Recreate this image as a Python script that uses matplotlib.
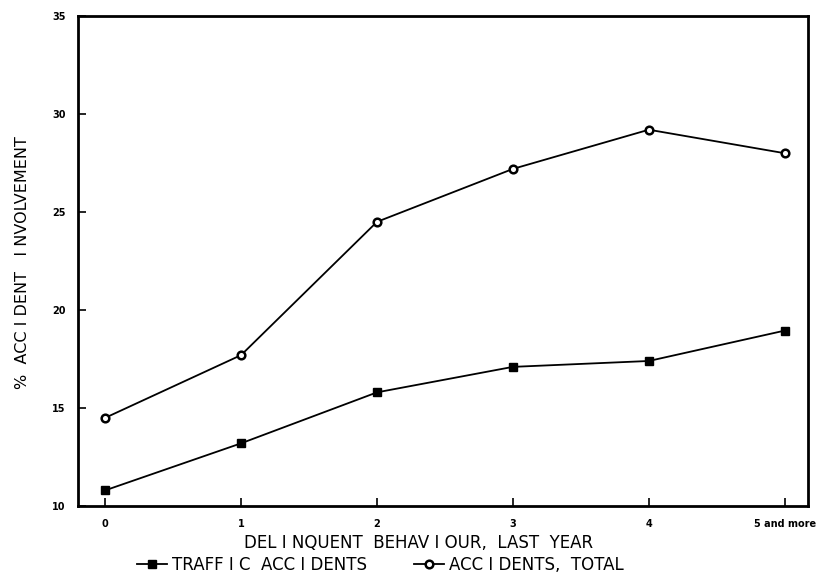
import matplotlib
matplotlib.use("Agg")
import matplotlib.pyplot as plt
import numpy as np

# data
categories = ["0", "1", "2", "3", "4", "5 and more"]
traffic_accidents = [10.8, 13.2, 15.8, 17.1, 17.4, 18.95]
accidents_total = [14.5, 17.7, 24.5, 27.2, 29.2, 28.0]
y_ticks = [10, 15, 20, 25, 30, 35]

x = np.arange(len(categories))

fig = plt.figure(figsize=(8.16, 5.85), dpi=100)
ax = fig.add_axes([0.0956, 0.135, 0.8944, 0.8376])

ax.plot(x, traffic_accidents, color="black", lw=1.3, marker="s", ms=5.5,
        mfc="black", mec="black", label="TRAFF I C  ACC I DENTS")
ax.plot(x, accidents_total, color="black", lw=1.3, marker="o", ms=5.5,
        mfc="white", mec="black", mew=1.8, label="ACC I DENTS,  TOTAL")

ax.set_xlim(-0.2, 5.17)
ax.set_ylim(10, 35)
ax.set_xticks(x)
ax.set_xticklabels(categories, fontsize=7, fontweight="bold")
ax.set_yticks(y_ticks)
ax.set_yticklabels([str(t) for t in y_ticks], fontsize=7, fontweight="bold")
ax.tick_params(direction="in", length=6, width=1.2, pad=9)

for s in ax.spines.values():
    s.set_linewidth(2)

# the scanned x label sits a little left of the axes centre
ax.set_xlabel("DEL I NQUENT  BEHAV I OUR,  LAST  YEAR", fontsize=12)
ax.xaxis.set_label_coords(0.466, -0.058)
fig.text(0.027, 0.552, "%  ACC I DENT   I NVOLVEMENT", rotation=90,
         fontsize=11.5, ha="center", va="center")

ax.legend(loc="center left", bbox_to_anchor=(0.168, 0.034), bbox_transform=fig.transFigure,
          ncol=2, frameon=False, fontsize=12, handlelength=1.8, columnspacing=2.8,
          handletextpad=0.3, borderaxespad=0, borderpad=0)

plt.savefig("out.png", dpi=100)
